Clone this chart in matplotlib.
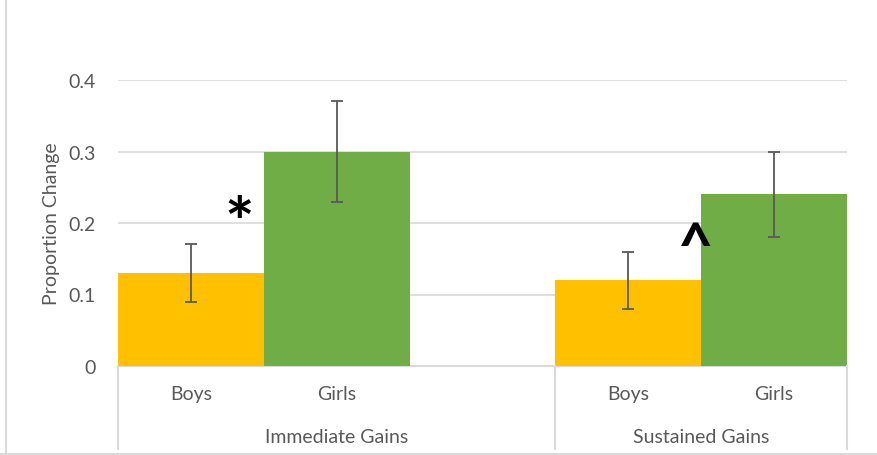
import numpy as np
from matplotlib import pyplot as plt
from matplotlib.lines import Line2D

# data
groups = ["Immediate Gains", "Sustained Gains"]
sexes = ["Boys", "Girls"]
boys = [0.13, 0.12]
girls = [0.30, 0.24]
boys_lo = [0.09, 0.08]
boys_hi = [0.17, 0.16]
girls_lo = [0.23, 0.18]
girls_hi = [0.37, 0.30]
yticks = [0, 0.1, 0.2, 0.3, 0.4]
ytick_labels = ["0", "0.1", "0.2", "0.3", "0.4"]

plt.rcParams['font.family'] = ['Lato', 'DejaVu Sans']
fs = 14

fig = plt.figure(figsize=(8.78, 4.56), dpi=100)
W, H = 878, 456
ax = fig.add_axes([118 / W, (H - 367) / H, (847 - 118) / W, (367 - 81) / H])

# slots: boys, girls, (empty), boys, girls
xb = np.array([0, 3])
xg = np.array([1, 4])

ax.bar(xb, boys, width=1.0, color="#FFC000", zorder=2)
ax.bar(xg, girls, width=1.0, color="#70AD47", zorder=2)

b = np.array(boys)
g = np.array(girls)
ax.errorbar(xb, b, yerr=[b - np.array(boys_lo), np.array(boys_hi) - b],
            fmt="none", ecolor="#595959", elinewidth=1.3, capsize=4, capthick=1.3, zorder=3)
ax.errorbar(xg, g, yerr=[g - np.array(girls_lo), np.array(girls_hi) - g],
            fmt="none", ecolor="#595959", elinewidth=1.3, capsize=4, capthick=1.3, zorder=3)

ax.set_xlim(-0.5, 4.5)
ax.set_ylim(0, 0.4)
ax.set_yticks(yticks)
ax.set_yticklabels(ytick_labels)
ax.tick_params(axis='y', length=0, pad=16, labelsize=fs, labelcolor="#595959")
ax.set_xticks([])
ax.yaxis.grid(True, color="#d9d9d9", lw=1.2, zorder=0)
ax.set_axisbelow(True)
for s in ax.spines.values():
    s.set_visible(False)
ax.set_ylabel("Proportion Change", fontsize=fs, color="#595959", labelpad=6)

# significance marks
ax.text(0.33, 0.195, "*", fontsize=50, fontweight="bold", ha="center", va="center", color="black")
ax.text(3.46, 0.165, "^", fontsize=44, fontweight="bold", ha="center", va="center", color="black")

# multi-level category axis
tr = ax.get_xaxis_transform()
ax.add_line(Line2D([-0.5, 4.5], [0, 0], color="#d9d9d9", lw=1.5, clip_on=False, zorder=1))
bot = -(450 - 367) / (367 - 81)
for x in [-0.5, 2.5, 4.5]:
    ax.add_line(Line2D([x, x], [0, bot], transform=tr, color="#d9d9d9", lw=1.5, clip_on=False))
sub_y = -(395 - 367) / (367 - 81)
grp_y = -(438 - 367) / (367 - 81)
for i in range(2):
    ax.text(xb[i], sub_y, sexes[0], transform=tr, ha="center", va="center", fontsize=fs, color="#595959")
    ax.text(xg[i], sub_y, sexes[1], transform=tr, ha="center", va="center", fontsize=fs, color="#595959")
ax.text(1.0, grp_y, groups[0], transform=tr, ha="center", va="center", fontsize=fs, color="#595959")
ax.text(3.5, grp_y, groups[1], transform=tr, ha="center", va="center", fontsize=fs, color="#595959")

# chart frame (left and bottom edges visible)
fig.add_artist(Line2D([6 / W, 6 / W], [0, 1], color="#d9d9d9", lw=1.5))
fig.add_artist(Line2D([0, 1], [1 / H, 1 / H], color="#d9d9d9", lw=1.5))

fig.savefig("out.png", dpi=100)
